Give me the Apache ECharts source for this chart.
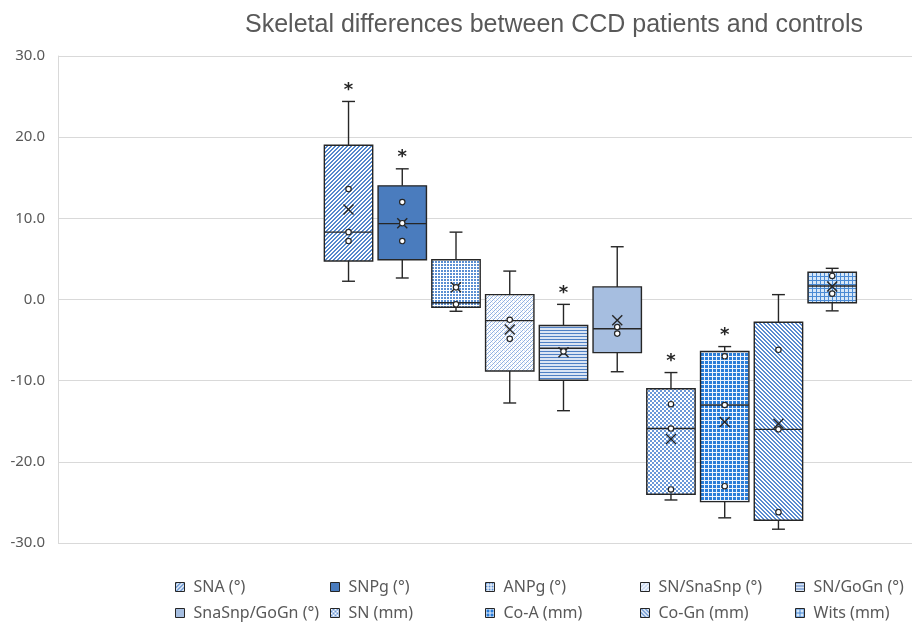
<!DOCTYPE html>
<html>
<head>
<meta charset="utf-8">
<script src="https://cdn.jsdelivr.net/npm/echarts@6/dist/echarts.min.js"></script>
<style>
  html, body { margin: 0; padding: 0; background: #fff; }
  #chart { width: 912px; height: 626px; }
</style>
</head>
<body>
<div id="chart"></div>
<script>
// box plot values
var names = ['SNA (°)', 'SNPg (°)', 'ANPg (°)', 'SN/SnaSnp (°)', 'SN/GoGn (°)',
             'SnaSnp/GoGn (°)', 'SN (mm)', 'Co-A (mm)', 'Co-Gn (mm)', 'Wits (mm)'];
var whiskerLow  = [2.25, 2.65, -1.45, -12.75, -13.7, -8.9, -24.7, -26.9, -28.3, -1.4];
var q1          = [4.75, 4.9, -0.95, -8.8, -9.95, -6.55, -24.0, -24.9, -27.2, -0.4];
var medians     = [8.3, 9.35, -0.4, -2.6, -6.0, -3.6, -15.9, -13.0, -16.0, 1.67];
var q3          = [19.0, 14.0, 4.9, 0.6, -3.2, 1.55, -11.0, -6.4, -2.8, 3.35];
var whiskerHigh = [24.4, 16.1, 8.3, 3.5, -0.6, 6.5, -9.0, -5.8, 0.6, 3.84];
var means       = [11.1, 9.4, 1.5, -3.7, -6.5, -2.55, -17.2, -15.1, -15.3, 1.6];
var points = [
  [13.6, 8.3, 7.2],
  [12.0, 9.4, 7.2],
  [1.5, -0.6],
  [-2.5, -4.85],
  [-6.4],
  [-3.4, -4.2],
  [-12.9, -15.9, -23.4],
  [-7.0, -13.0, -23.0],
  [-6.2, -16.0, -26.2],
  [2.9, 0.72]
];
var starred = [true, true, false, false, true, false, true, true, false, false];
var yTicks = [-30, -20, -10, 0, 10, 20, 30];

var DARK = '#262626';

function makePattern(w, h, fn) {
  var cv = document.createElement('canvas');
  cv.width = w; cv.height = h;
  var ctx = cv.getContext('2d');
  for (var x = 0; x < w; x++) {
    for (var y = 0; y < h; y++) {
      ctx.fillStyle = fn(x, y);
      ctx.fillRect(x, y, 1, 1);
    }
  }
  return { image: cv, repeat: 'repeat' };
}

var patterns = [
  makePattern(4, 4, function (x, y) { return (x + y) % 4 < 2 ? '#5588cc' : '#ffffff'; }),
  '#4A7CBE',
  makePattern(3, 3, function (x, y) { return (x % 3 < 2 && y % 3 < 2) ? '#5b8fd2' : '#ffffff'; }),
  makePattern(4, 4, function (x, y) { return (x + y) % 4 === 0 ? '#8fb0e2' : ((x % 2 === 0 && y % 2 === 0) ? '#d6e2f4' : '#ffffff'); }),
  makePattern(3, 3, function (x, y) { return y % 3 === 0 ? '#4f80c4' : '#dbe5f4'; }),
  '#A6BEE0',
  makePattern(4, 4, function (x, y) { return ((Math.floor(x / 2) + Math.floor(y / 2)) % 2) ? '#6a98d8' : '#ffffff'; }),
  makePattern(4, 4, function (x, y) { return (x % 4 === 0 || y % 4 === 0) ? '#eef4fc' : '#2a7dd8'; }),
  makePattern(4, 4, function (x, y) { return ((x - y + 8) % 4) < 2 ? '#5a8bd0' : '#ffffff'; }),
  makePattern(4, 4, function (x, y) { return (x % 4 === 0 || y % 4 === 0) ? '#4a8ad4' : '#d6e7f8'; })
];

function renderBox(params, api) {
  var i = params.seriesIndex;
  var x = api.value(0);
  var cx = api.coord([x, 0])[0];
  var halfW = api.size([0.9, 0])[0] / 2;
  var cap = api.size([0.24, 0])[0] / 2;
  var yLow = api.coord([x, api.value(1)])[1];
  var yQ1 = api.coord([x, api.value(2)])[1];
  var yMed = api.coord([x, api.value(3)])[1];
  var yQ3 = api.coord([x, api.value(4)])[1];
  var yHigh = api.coord([x, api.value(5)])[1];
  var yMean = api.coord([x, api.value(6)])[1];
  var line = { stroke: DARK, lineWidth: 1.4 };
  var kids = [
    { type: 'line', shape: { x1: cx, y1: yHigh, x2: cx, y2: yQ3 }, style: line },
    { type: 'line', shape: { x1: cx, y1: yQ1, x2: cx, y2: yLow }, style: line },
    { type: 'line', shape: { x1: cx - cap, y1: yHigh, x2: cx + cap, y2: yHigh }, style: line },
    { type: 'line', shape: { x1: cx - cap, y1: yLow, x2: cx + cap, y2: yLow }, style: line },
    { type: 'rect', shape: { x: cx - halfW, y: yQ3, width: halfW * 2, height: yQ1 - yQ3 },
      style: { fill: patterns[i], stroke: DARK, lineWidth: 1.4 } },
    { type: 'line', shape: { x1: cx - halfW, y1: yMed, x2: cx + halfW, y2: yMed }, style: line },
    { type: 'line', shape: { x1: cx - 5, y1: yMean - 5, x2: cx + 5, y2: yMean + 5 }, style: line },
    { type: 'line', shape: { x1: cx - 5, y1: yMean + 5, x2: cx + 5, y2: yMean - 5 }, style: line }
  ];
  points[i].forEach(function (v) {
    var py = api.coord([x, v])[1];
    kids.push({ type: 'circle', shape: { cx: cx, cy: py, r: 2.7 },
      style: { fill: '#ffffff', stroke: DARK, lineWidth: 1.2 } });
  });
  if (starred[i]) {
    kids.push({ type: 'text', style: { text: '*', x: cx, y: yHigh - 2, align: 'center', verticalAlign: 'bottom',
      font: 'bold 18px "DejaVu Sans"', fill: DARK } });
  }
  return { type: 'group', children: kids };
}

var series = names.map(function (n, i) {
  return {
    type: 'custom',
    name: n,
    renderItem: renderBox,
    clip: false,
    itemStyle: { color: patterns[i], borderColor: DARK, borderWidth: 1 },
    encode: { x: 0, y: [1, 5] },
    data: [[i, whiskerLow[i], q1[i], medians[i], q3[i], whiskerHigh[i], means[i]]]
  };
});

var legends = names.map(function (n, i) {
  return {
    data: [n],
    left: 175 + (i % 5) * 155,
    top: 578 + Math.floor(i / 5) * 26,
    padding: 0,
    icon: 'rect',
    itemWidth: 9,
    itemHeight: 9,
    itemStyle: { borderColor: DARK, borderWidth: 1 },
    textStyle: { color: '#595959', fontSize: 16, fontFamily: 'Noto Sans', lineHeight: 18, padding: [0, 0, 0, 4] }
  };
});

var chart = echarts.init(document.getElementById('chart'));
chart.setOption({
  animation: false,
  backgroundColor: '#ffffff',
  title: {
    text: 'Skeletal differences between CCD patients and controls',
    left: 240,
    top: 8,
    textStyle: { color: '#595959', fontSize: 25, fontWeight: 'normal', fontFamily: 'Liberation Sans' }
  },
  legend: legends,
  grid: { left: 58, right: 0, top: 56, bottom: 83 },
  xAxis: {
    type: 'value',
    min: -5.406,
    max: 10.485,
    show: false
  },
  yAxis: {
    type: 'value',
    min: yTicks[0],
    max: yTicks[yTicks.length - 1],
    interval: 10,
    axisLine: { show: true, onZero: false, lineStyle: { color: '#d9d9d9' } },
    axisTick: { show: false },
    splitLine: { lineStyle: { color: '#d9d9d9', width: 1 } },
    axisLabel: {
      color: '#595959', fontSize: 15, fontFamily: 'Noto Sans', margin: 13,
      formatter: function (v) { return v.toFixed(1); }
    }
  },
  series: series
});
</script>
</body>
</html>
